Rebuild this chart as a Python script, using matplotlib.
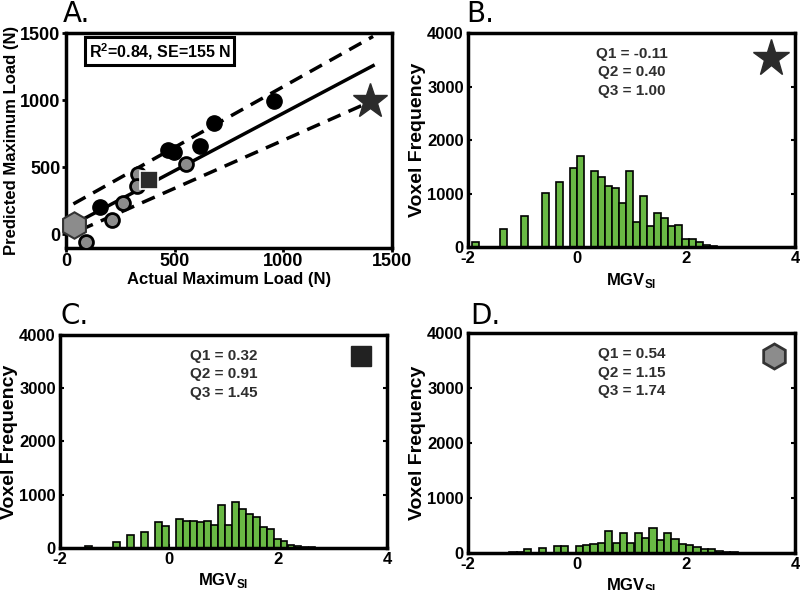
import numpy as np
import matplotlib
matplotlib.use("Agg")
import matplotlib.pyplot as plt

plt.rcParams['font.family'] = ['Liberation Sans', 'DejaVu Sans']
plt.rcParams['font.weight'] = 'bold'
plt.rcParams['mathtext.fontset'] = 'custom'
plt.rcParams['mathtext.rm'] = 'Liberation Sans:bold'
plt.rcParams['mathtext.bf'] = 'Liberation Sans:bold'
plt.rcParams['axes.unicode_minus'] = False

# --- panel A data (actual vs predicted maximum load, N)
black_x = [155, 471, 498, 617, 683, 958]
black_y = [202, 632, 612, 657, 832, 995]
gray_x = [93, 212, 263, 331, 328, 552]
gray_y = [-60, 107, 237, 452, 357, 527]
square_xy = [382, 402]
hex_xy = [37, 70]
star_xy = [1399, 990]
fit_x = [42, 1413]
fit_y = [82, 1257]
upper_x = [34, 1413]
upper_y = [227, 1475]
lower_x = [65, 1410]
lower_y = [32, 995]

# --- histograms (bin left edges start, bin width, counts)
b_start, b_width = -1.92, 0.128
b_counts = [90, 0, 0, 0, 335, 0, 0, 580, 0, 0, 1010, 0, 1220, 0, 1480, 1700,
            0, 1430, 1315, 1140, 1110, 820, 1430, 477, 950, 400, 640, 550,
            387, 413, 155, 160, 97, 45, 20, 6]
b_q = ["Q1 = -0.11", "Q2 = 0.40", "Q3 = 1.00"]

c_start, c_width = -1.538, 0.128
c_counts = [32, 0, 0, 0, 116, 0, 240, 0, 300, 0, 480, 410, 0, 550, 515, 500,
            497, 500, 430, 805, 440, 860, 740, 645, 580, 400, 355, 160, 140,
            58, 32, 25, 10]
c_q = ["Q1 = 0.32", "Q2 = 0.91", "Q3 = 1.45"]

d_start, d_width = -1.24, 0.135
d_counts = [10, 12, 76, 0, 95, 0, 120, 134, 0, 127, 140, 165, 185, 400, 190,
            363, 185, 363, 280, 450, 235, 363, 250, 172, 153, 108, 76, 64, 45,
            25, 12, 5]
d_q = ["Q1 = 0.54", "Q2 = 1.15", "Q3 = 1.74"]

green = '#69b944'

fig = plt.figure(figsize=(8, 5.9), dpi=100)

# ---------- A
ax = fig.add_axes([0.0825, 0.580, 0.4075, 0.364])
ax.plot(upper_x, upper_y, 'k--', lw=2.5, dashes=(4, 2.5), zorder=1)
ax.plot(lower_x, lower_y, 'k--', lw=2.5, dashes=(4, 2.5), zorder=1)
ax.plot(fit_x, fit_y, 'k-', lw=2.5, zorder=1)
ax.plot(black_x, black_y, 'o', color='black', ms=11, zorder=3)
ax.plot(gray_x, gray_y, 'o', mfc='#8c8c8c', mec='black', mew=2, ms=10, zorder=3)
ax.plot(square_xy[0], square_xy[1], 's', mfc='#2b2b2b', mec='white', mew=1.2, ms=13, zorder=4)
ax.plot(hex_xy[0], hex_xy[1], 'h', mfc='#8c8c8c', mec='#333333', mew=1.5, ms=19, zorder=4, clip_on=False)
ax.plot(star_xy[0], star_xy[1], '*', color='#2b2b2b', ms=26, zorder=4, clip_on=False)
ax.set_xlim(0, 1500)
ax.set_ylim(-100, 1500)
ax.set_xticks([0, 500, 1000, 1500])
ax.set_yticks([0, 500, 1000, 1500])
ax.set_xlabel('Actual Maximum Load (N)', fontsize=12, fontweight='bold', labelpad=1)
ax.set_ylabel('Predicted Maximum Load (N)', fontsize=12, fontweight='bold', labelpad=1)
ax.text(0.07, 0.915, r'R$^{2}$=0.84, SE=155 N', transform=ax.transAxes, fontsize=11.5,
        fontweight='bold', va='center', ha='left',
        bbox=dict(boxstyle='square,pad=0.22', fc='white', ec='black', lw=2.2))
ax.tick_params(direction='out', length=3, width=2, labelsize=13, pad=1)
for s in ax.spines.values():
    s.set_linewidth(2.5)
fig.text(0.078, 0.962, 'A.', fontsize=20, fontweight='normal', family='DejaVu Sans')


def hist_panel(rect, start, width, counts, qtext, letter, letter_pos):
    ax = fig.add_axes(rect)
    edges = start + width * np.arange(len(counts))
    ax.bar(edges, counts, width=width * 0.98, align='edge', color=green,
           edgecolor='black', linewidth=1.2, zorder=2)
    ax.set_xlim(-2, 4)
    ax.set_ylim(0, 4000)
    ax.set_xticks([-2, 0, 2, 4])
    ax.set_yticks([0, 1000, 2000, 3000, 4000])
    ax.set_xlabel(r'MGV$_{\mathrm{SI}}$', fontsize=12, fontweight='bold', labelpad=3)
    ax.set_ylabel('Voxel Frequency', fontsize=14, fontweight='bold', labelpad=1)
    ax.tick_params(direction='in', length=3, width=1.5, labelsize=12, pad=3,
                   right=True, top=False)
    for s in ax.spines.values():
        s.set_linewidth(2.5)
    ax.text(0.5, 0.935, '\n'.join(qtext), transform=ax.transAxes, ha='center',
            va='top', fontsize=11, fontweight='bold', color='#2e2e2e',
            linespacing=1.4)
    fig.text(letter_pos[0], letter_pos[1], letter, fontsize=20,
             fontweight='normal', family='DejaVu Sans')
    return ax


axb = hist_panel([0.585, 0.581, 0.409, 0.363], b_start, b_width, b_counts, b_q,
                 'B.', (0.583, 0.962))
axb.plot(0.925, 0.885, '*', color='#2b2b2b', ms=28, transform=axb.transAxes)

axc = hist_panel([0.075, 0.0712, 0.409, 0.361], c_start, c_width, c_counts, c_q,
                 'C.', (0.075, 0.450))
axc.plot(0.92, 0.90, 's', color='#222222', ms=14, transform=axc.transAxes)

axd = hist_panel([0.585, 0.0627, 0.409, 0.373], d_start, d_width, d_counts, d_q,
                 'D.', (0.588, 0.450))
axd.plot(0.935, 0.895, 'h', mfc='#8c8c8c', mec='#333333', mew=2, ms=18,
         transform=axd.transAxes)

fig.savefig('out.png', dpi=100)
